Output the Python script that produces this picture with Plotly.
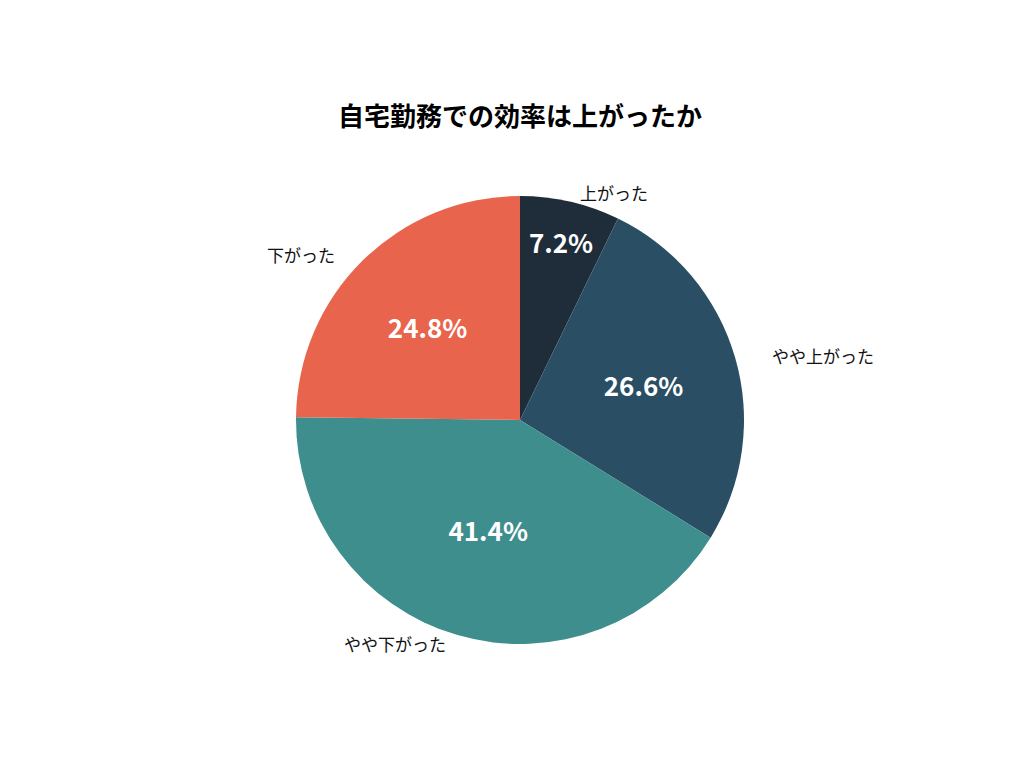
import math
import plotly.graph_objects as go

labels = ['上がった', 'やや上がった', 'やや下がった', '下がった']
values = [7.2, 26.6, 41.4, 24.8]
colors = ['#1f2d3a', '#2a4e63', '#3f8e8e', '#e8644c']

font = 'Noto Sans CJK JP'

fig = go.Figure(go.Pie(
    labels=labels, values=values, sort=False, direction='clockwise', rotation=0,
    marker=dict(colors=colors), texttemplate='%{value:.1f}%', textposition='inside',
    insidetextorientation='horizontal',
    textfont=dict(family=font, size=26, color='white', weight='bold'),
    hoverinfo='label+percent', showlegend=False,
))

# outside labels placed along the slice mid-angles (paper coords of a 448x448 plot area)
anns = []
cum = 0
for lab, v in zip(labels, values):
    mid = (cum + v / 2) / 100 * 2 * math.pi
    cum += v
    sx, cy = math.sin(mid), math.cos(mid)
    anns.append(dict(
        x=0.5 + 0.58 * sx, y=0.5 + 0.52 * cy, xref='paper', yref='paper', text=lab,
        showarrow=False, font=dict(family=font, size=17, color='#111'),
        xanchor='left' if sx > 0.1 else ('right' if sx < -0.1 else 'center'),
        yanchor='middle'))

fig.update_layout(
    width=1024, height=768, paper_bgcolor='white',
    margin=dict(l=288, r=288, t=188, b=132),
    title=dict(text='自宅勤務での効率は上がったか', x=0.5, xanchor='center', y=0.87,
               font=dict(family=font, size=26, color='black', weight='bold')),
    annotations=anns,
)

fig.write_html('out.html')
